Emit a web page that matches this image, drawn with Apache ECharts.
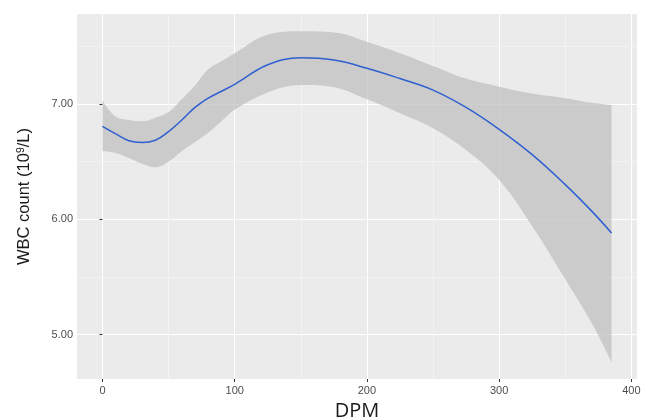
<!DOCTYPE html>
<html>
<head>
<meta charset="utf-8">
<script src="https://cdn.jsdelivr.net/npm/echarts@6/dist/echarts.min.js"></script>
<style>html,body{margin:0;padding:0;background:#fff}#c{width:651px;height:418px}</style>
</head>
<body>
<div id="c"></div>
<script>
// DPM values where the smoothed curve is sampled
const dpm   = [0, 10, 20, 30, 40, 50, 60, 70, 80, 90, 100, 125, 150, 175, 200, 225, 250, 275, 300, 325, 350, 370, 385];
// fitted WBC count (10^9/L)
const fit   = [6.805, 6.74, 6.68, 6.665, 6.685, 6.76, 6.86, 6.97, 7.05, 7.11, 7.17, 7.34, 7.40, 7.38, 7.31, 7.22, 7.12, 6.97, 6.78, 6.56, 6.30, 6.07, 5.88];
// confidence band
const upper = [7.03, 6.89, 6.86, 6.85, 6.88, 6.93, 7.04, 7.16, 7.30, 7.37, 7.44, 7.60, 7.63, 7.62, 7.54, 7.44, 7.33, 7.22, 7.15, 7.09, 7.05, 7.01, 6.99];
const lower = [6.59, 6.575, 6.53, 6.48, 6.45, 6.50, 6.59, 6.67, 6.75, 6.85, 6.95, 7.10, 7.165, 7.145, 7.04, 6.92, 6.79, 6.60, 6.34, 5.94, 5.48, 5.10, 4.76];
// axis ticks
const xTicks = [0, 100, 200, 300, 400];
const xMinor = [50, 150, 250, 350];
const yTicks = [5, 6, 7];
const yMinor = [5.5, 6.5, 7.5];

const chart = echarts.init(document.getElementById('c'), null, {renderer: 'canvas'});
const font = 'Liberation Sans, Arial, sans-serif';
const minorLines = [];
xMinor.forEach(v => minorLines.push({xAxis: v}));
yMinor.forEach(v => minorLines.push({yAxis: v}));
const SM = 0.4;

chart.setOption({
  animation: false,
  backgroundColor: '#ffffff',
  grid: {left: 77, right: 14, top: 14, bottom: 39, show: true, backgroundColor: '#EBEBEB', borderWidth: 0, containLabel: false, outerBoundsMode: 'none'},
  xAxis: {
    type: 'value', min: -19.25, max: 404.25,
    name: 'DPM', nameLocation: 'middle', nameGap: 22,
    nameTextStyle: {fontFamily: 'Open Sans, sans-serif', fontSize: 20, color: '#1a1a1a'},
    axisLine: {show: false},
    axisTick: {show: true, length: 3, lineStyle: {color: '#333'}, customValues: xTicks},
    axisLabel: {fontFamily: font, fontSize: 11, color: '#4D4D4D', margin: 6, customValues: xTicks, formatter: v => String(v)},
    splitLine: {show: true, lineStyle: {color: '#ffffff', width: 1}}
  },
  yAxis: {
    type: 'value', min: 4.614, max: 7.78,
    name: 'WBC count (10{s|9}/L)', nameLocation: 'middle', nameGap: 44,
    nameTextStyle: {fontFamily: font, fontSize: 16.5, color: '#1a1a1a', rich: {s: {fontFamily: font, fontSize: 10.5, color: '#1a1a1a', verticalAlign: 'top', padding: [0,0,6,0]}}},
    axisLine: {show: false},
    axisTick: {show: true, length: 3, lineStyle: {color: '#333'}, customValues: yTicks},
    axisLabel: {fontFamily: font, fontSize: 11, color: '#4D4D4D', margin: 4, customValues: yTicks, formatter: v => v.toFixed(2)},
    splitLine: {show: true, lineStyle: {color: '#ffffff', width: 1}}
  },
  series: [
    {
      name: 'lower', type: 'line', stack: 'ci', z: 2,
      encode: {x: 1, y: 0},
      data: dpm.map((d, i) => [lower[i], d]),
      smooth: SM, showSymbol: false, symbol: 'none',
      lineStyle: {opacity: 0, width: 0},
      markLine: {
        silent: true, symbol: 'none', z: 1, label: {show: false},
        lineStyle: {color: '#F3F3F3', width: 1, type: 'solid'},
        data: minorLines
      }
    },
    {
      name: 'band', type: 'line', stack: 'ci', z: 3,
      encode: {x: 1, y: 0},
      data: dpm.map((d, i) => [+(upper[i] - lower[i]).toFixed(4), d]),
      smooth: SM, showSymbol: false, symbol: 'none',
      lineStyle: {opacity: 0, width: 0},
      areaStyle: {color: 'rgba(192,192,192,0.75)', opacity: 1}
    },
    {
      name: 'fit', type: 'line', z: 4,
      data: dpm.map((d, i) => [d, fit[i]]),
      smooth: SM, showSymbol: false, symbol: 'none',
      lineStyle: {color: '#2f5fd0', width: 1.5}
    }
  ]
});
</script>
</body>
</html>
